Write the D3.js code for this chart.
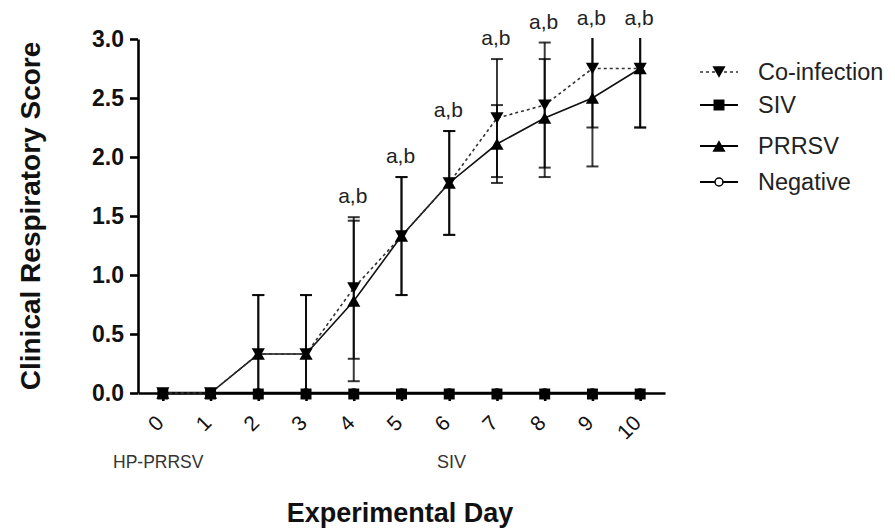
<!DOCTYPE html>
<html>
<head>
<meta charset="utf-8">
<script src="https://cdn.jsdelivr.net/npm/d3@7"></script>
<style>
  body { margin: 0; background: #fff; }
  svg { font-family: "Liberation Sans", Arial, sans-serif; }
</style>
</head>
<body>
<div id="chart"></div>
<script>
(function() {
  // values
  const days = [0, 1, 2, 3, 4, 5, 6, 7, 8, 9, 10];
  const coInfection   = [0, 0, 0.33, 0.33, 0.89, 1.33, 1.78, 2.33, 2.44, 2.75, 2.75];
  const coInfectionSD = [0, 0, 0.5, 0.5, 0.6, 0.5, 0.44, 0.5, 0.53, 0.5, 0.5];
  const prrsv   = [0, 0, 0.33, 0.33, 0.78, 1.33, 1.78, 2.11, 2.33, 2.5, 2.75];
  const prrsvSD = [0, 0, 0.5, 0.5, 0.68, 0.5, 0.44, 0.33, 0.5, 0.58, 0.5];
  const siv      = [0, 0, 0, 0, 0, 0, 0, 0, 0, 0, 0];
  const negative = [0, 0, 0, 0, 0, 0, 0, 0, 0, 0, 0];
  const sigDays = [4, 5, 6, 7, 8, 9, 10];
  const sigLabel = "a,b";
  const yTicks = [0, 0.5, 1, 1.5, 2, 2.5, 3];
  const legendNames = ["Co-infection", "SIV", "PRRSV", "Negative"];

  const width = 895;
  const height = 530;

  const svg = d3.select("#chart")
    .append("svg")
    .attr("width", width)
    .attr("height", height);

  const x = d3.scaleLinear().domain([-0.52, 10.52]).range([138, 665]);
  const y = d3.scaleLinear().domain([0, 3]).range([393, 39]);

  // clip for error bars going past the axes
  svg.append("clipPath").attr("id", "plot")
    .append("rect")
    .attr("x", 130).attr("y", y(3) - 1)
    .attr("width", 560).attr("height", y(0) - y(3) + 1);

  // y axis
  const yAxis = svg.append("g")
    .attr("transform", "translate(138,0)")
    .call(d3.axisLeft(y).tickValues(yTicks).tickFormat(d3.format(".1f")).tickSize(8).tickSizeOuter(0).tickPadding(6));
  yAxis.selectAll("path, line").attr("stroke", "#000").attr("stroke-width", 2.6);
  yAxis.selectAll("text")
    .attr("font-size", "23px")
    .attr("font-weight", "bold")
    .attr("fill", "#111")
    .style("font-family", "'Liberation Sans', Arial, sans-serif");

  // x axis
  const xAxis = svg.append("g")
    .attr("transform", "translate(0,393)")
    .call(d3.axisBottom(x).tickValues(days).tickFormat(d3.format("d")).tickSize(8).tickSizeOuter(0));
  xAxis.selectAll("path, line").attr("stroke", "#000").attr("stroke-width", 2.6);
  xAxis.selectAll("text")
    .attr("y", 0)
    .attr("dy", "0.35em")
    .attr("text-anchor", "end")
    .attr("transform", "translate(-3.5,26) rotate(-45)")
    .attr("font-size", "21px")
    .attr("fill", "#111")
    .style("font-family", "'Liberation Sans', Arial, sans-serif");

  // error bars
  function errorBars(vals, sds) {
    const g = svg.append("g").attr("clip-path", "url(#plot)");
    days.forEach(function(d, i) {
      if (sds[i] === 0) return;
      const top = vals[i] + sds[i];
      const bot = vals[i] - sds[i];
      g.append("line")
        .attr("x1", x(d)).attr("x2", x(d))
        .attr("y1", y(top)).attr("y2", y(bot))
        .attr("stroke", "#000").attr("stroke-opacity", 0.78).attr("stroke-width", 2);
      [top, bot].forEach(function(v) {
        g.append("line")
          .attr("x1", x(d) - 6).attr("x2", x(d) + 6)
          .attr("y1", y(v)).attr("y2", y(v))
          .attr("stroke", "#000").attr("stroke-opacity", 0.78).attr("stroke-width", 2);
      });
    });
  }
  errorBars(coInfection, coInfectionSD);
  errorBars(prrsv, prrsvSD);

  const line = d3.line()
    .x(function(d, i) { return x(days[i]); })
    .y(function(d) { return y(d); });

  svg.append("path").datum(negative)
    .attr("d", line).attr("fill", "none").attr("stroke", "#000").attr("stroke-width", 1.5);
  svg.append("path").datum(siv)
    .attr("d", line).attr("fill", "none").attr("stroke", "#000").attr("stroke-width", 2.6);
  svg.append("path").datum(prrsv)
    .attr("d", line).attr("fill", "none").attr("stroke", "#111").attr("stroke-width", 1.6);
  svg.append("path").datum(coInfection)
    .attr("d", line).attr("fill", "none").attr("stroke", "#333")
    .attr("stroke-width", 1.6).attr("stroke-dasharray", "3,3");

  const triSize = 75;
  const triShift = Math.sqrt(triSize / (3 * Math.sqrt(3))) / 2; // centre the triangle's box on the point
  const tri = d3.symbol().type(d3.symbolTriangle).size(triSize);
  const sq = d3.symbol().type(d3.symbolSquare).size(120);
  const circ = d3.symbol().type(d3.symbolCircle).size(50);

  // markers
  svg.selectAll(".neg").data(negative).enter().append("path")
    .attr("d", circ)
    .attr("transform", function(d, i) { return "translate(" + x(days[i]) + "," + y(d) + ")"; })
    .attr("fill", "#fff").attr("stroke", "#000").attr("stroke-width", 1.5);
  svg.selectAll(".siv").data(siv).enter().append("path")
    .attr("d", sq)
    .attr("transform", function(d, i) { return "translate(" + x(days[i]) + "," + (y(d) + 1) + ")"; })
    .attr("fill", "#000");
  svg.selectAll(".prrsv").data(prrsv).enter().append("path")
    .attr("d", tri)
    .attr("transform", function(d, i) { return "translate(" + x(days[i]) + "," + (y(d) + triShift) + ")"; })
    .attr("fill", "#000");
  svg.selectAll(".coinf").data(coInfection).enter().append("path")
    .attr("d", tri)
    .attr("transform", function(d, i) { return "translate(" + x(days[i]) + "," + (y(d) - triShift) + ") rotate(180)"; })
    .attr("fill", "#000");

  // significance letters
  sigDays.forEach(function(d) {
    const i = days.indexOf(d);
    const top = Math.min(3, Math.max(coInfection[i] + coInfectionSD[i], prrsv[i] + prrsvSD[i]));
    svg.append("text")
      .attr("x", x(d) - 1)
      .attr("y", y(top) - 14)
      .attr("text-anchor", "middle")
      .attr("font-size", "21px")
      .attr("fill", "#222")
      .text(sigLabel);
  });

  // axis titles and notes
  svg.append("text")
    .attr("transform", "translate(40,216) rotate(-90)")
    .attr("text-anchor", "middle")
    .attr("font-size", "28px")
    .attr("font-weight", "bold")
    .attr("fill", "#111")
    .text("Clinical Respiratory Score");

  svg.append("text")
    .attr("x", 400).attr("y", 522)
    .attr("text-anchor", "middle")
    .attr("font-size", "27px")
    .attr("font-weight", "bold")
    .attr("fill", "#111")
    .text("Experimental Day");

  svg.append("text")
    .attr("x", 113).attr("y", 468)
    .attr("font-size", "17.5px")
    .attr("fill", "#333")
    .text("HP-PRRSV");
  svg.append("text")
    .attr("x", 437).attr("y", 468)
    .attr("font-size", "18px")
    .attr("fill", "#333")
    .text("SIV");

  // legend
  const legendY = [72, 105, 146, 182];
  const legend = svg.append("g");
  legendNames.forEach(function(name, i) {
    const ly = legendY[i];
    legend.append("line")
      .attr("x1", 700).attr("x2", 738).attr("y1", ly).attr("y2", ly)
      .attr("stroke", i === 0 ? "#333" : "#000")
      .attr("stroke-width", i === 0 ? 1.6 : 2)
      .attr("stroke-dasharray", i === 0 ? "3,3" : null);
    let sym, fill = "#000", tr = "translate(719," + ly + ")";
    if (i === 0) { sym = tri; tr = "translate(719," + (ly - triShift) + ") rotate(180)"; }
    else if (i === 1) { sym = sq; }
    else if (i === 2) { sym = tri; tr = "translate(719," + (ly + triShift) + ")"; }
    else { sym = circ; fill = "#fff"; }
    legend.append("path")
      .attr("d", sym)
      .attr("transform", tr)
      .attr("fill", fill)
      .attr("stroke", i === 3 ? "#000" : "none")
      .attr("stroke-width", 1.5);
    legend.append("text")
      .attr("x", 758).attr("y", ly)
      .attr("dy", "0.35em")
      .attr("font-size", "23.5px")
      .attr("fill", "#222")
      .text(name);
  });
})();
</script>
</body>
</html>
